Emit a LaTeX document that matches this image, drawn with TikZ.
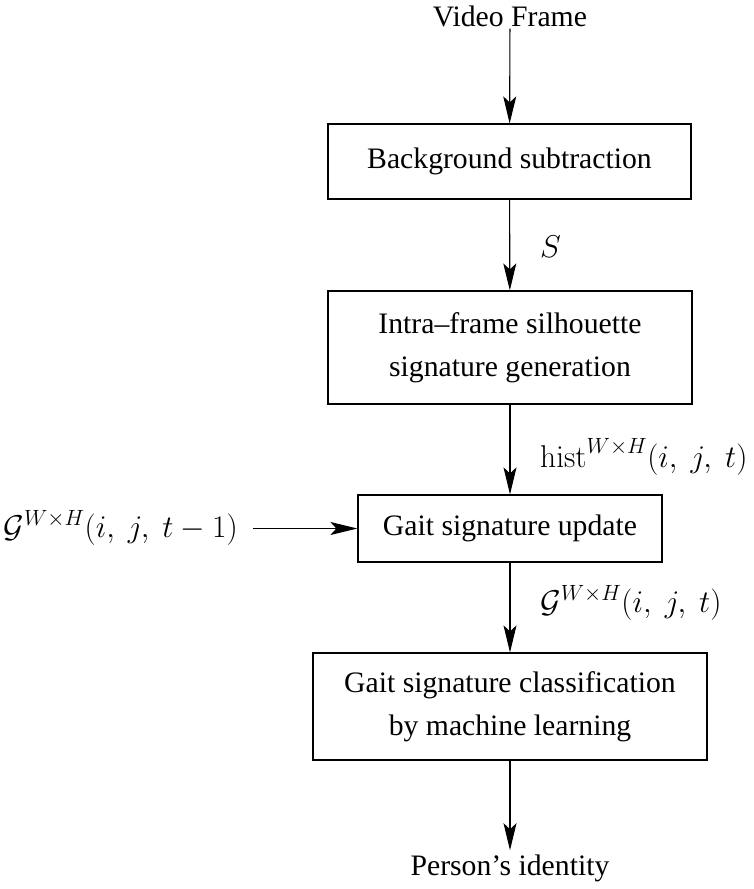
\RequirePackage{fix-cm}
\documentclass[tikz,border=0pt]{standalone}
\usepackage[no-math]{fontspec}
\setmainfont{Liberation Serif}
\usetikzlibrary{arrows.meta}
\begin{document}
\begin{tikzpicture}[x=1pt,y=-1pt,
  font=\fontsize{29.7}{43}\selectfont,
  box/.style={draw, line width=1.2pt, inner sep=0pt, align=center},
  txt/.style={inner sep=2pt},
  lab/.style={inner sep=0pt, anchor=base west, font=\fontsize{31.5}{40}\selectfont},
  arr/.style={draw, line width=1.1pt, -{Stealth[length=27pt,width=13pt,inset=6pt]}}]
\useasboundingbox (0,0) rectangle (753,889);
\node[txt, anchor=base] (vf) at (510,26) {Video Frame};
\node[box, minimum width=363pt, minimum height=75pt] (b1) at (509.5,161.5) {Background subtraction};
\node[box, minimum width=364pt, minimum height=113pt] (b2) at (510,347.5) {Intra–frame silhouette\\signature generation};
\node[box, minimum width=304pt, minimum height=67pt] (b3) at (510,528.5) {Gait signature update};
\node[box, minimum width=394pt, minimum height=107pt] (b4) at (510,706.5) {Gait signature classification\\by machine learning};
\node[txt, anchor=base, inner sep=4pt] (pid) at (510,875) {Person’s identity};
\node[lab, anchor=base east] (gprev) at (238,537) {$\mathcal{G}^{W\times H}(i,\ j,\ t-1)$};
\node[lab] (ls) at (540,257) {$S$};
\node[lab] (lh) at (540,467) {$\mathrm{hist}^{W\times H}(i,\ j,\ t)$};
\node[lab] (lg) at (540,612) {$\mathcal{G}^{W\times H}(i,\ j,\ t)$};
\draw[arr] (vf) -- (b1);
\draw[arr] (b1) -- (b2);
\draw[arr] (b2) -- (b3);
\draw[arr] (b3) -- (b4);
\draw[arr] (b4) -- (pid);
\draw[arr] (gprev.east |- b3.west) ++(15pt,0) -- (b3.west);
\end{tikzpicture}
\end{document}
